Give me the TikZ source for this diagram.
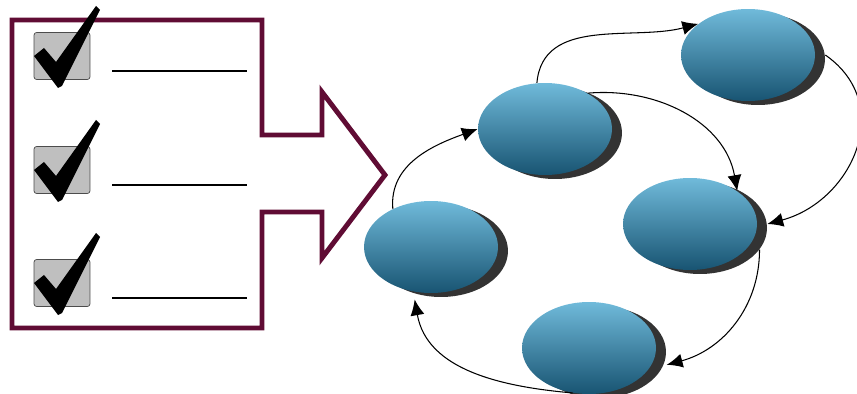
\documentclass[tikz,border=0pt]{standalone}
\usepackage{tikz}
\usetikzlibrary{shapes.geometric, arrows.meta, shadows, positioning}

\definecolor{plum}{RGB}{96,12,52}
\definecolor{blobtop}{RGB}{112,186,218}
\definecolor{blobbot}{RGB}{24,84,114}

\tikzset{
  blob/.style={ellipse, minimum width=2.68cm, minimum height=1.84cm,
    top color=blobtop, bottom color=blobbot,
    drop shadow={shadow xshift=0.2cm, shadow yshift=-0.08cm, fill=black!80, opacity=1}},
  tickbox/.style={draw=black!70, fill=black!25, rounded corners=1.5pt,
    minimum width=1.12cm, minimum height=0.94cm, inner sep=0pt},
}

\begin{document}
\begin{tikzpicture}[x=0.02cm, y=-0.02cm, >={Latex[length=9pt,width=8pt]}]
\useasboundingbox (0,0) rectangle (857,394);

% checklist with its arrow outline
\draw[plum, line width=2.8pt] (12,20) -- (262,20) -- (262,135) -- (322,135) -- (322,92)
  -- (385,175) -- (322,258) -- (322,212) -- (262,212) -- (262,328) -- (12,328) -- cycle;

\foreach \y [count=\i] in {56,170,283} {
  \node[tickbox] (box\i) at (62,\y) {};
  \fill[shift={(box\i.center)}] (-28,0) -- (-18,-8) -- (-6,6) -- (34,-50) -- (38,-46)
    -- (0,30) -- (-4,32) -- cycle;
  \draw[line width=0.7pt] (112,\y+15) -- (247,\y+15);
}

% states
\node[blob] (n1) at (748,55) {};
\node[blob] (n2) at (545,129) {};
\node[blob] (n3) at (690,224) {};
\node[blob] (n4) at (431,247) {};
\node[blob] (n5) at (589,348) {};

\draw[->, line width=0.6pt] (n2.100) to[out=85, in=195] (n1.148);
\draw[->, line width=0.6pt] ([xshift=0.2cm]n1.east) to[out=-35, in=15, looseness=1.25] ([xshift=0.2cm]n3.east);
\draw[->, line width=0.6pt] (n2.40) to[out=5, in=100] (n3.35);
\draw[->, line width=0.6pt] ([shift={(0.2cm,-0.08cm)}]n3.-20) to[out=-90, in=15] ([xshift=0.3cm]n5.-15);
\draw[->, line width=0.6pt] (n5.250) to[out=175, in=-80] ([yshift=-0.15cm]n4.250);
\draw[->, line width=0.6pt] (n4.135) to[out=95, in=200] (n2.180);
\end{tikzpicture}
\end{document}
